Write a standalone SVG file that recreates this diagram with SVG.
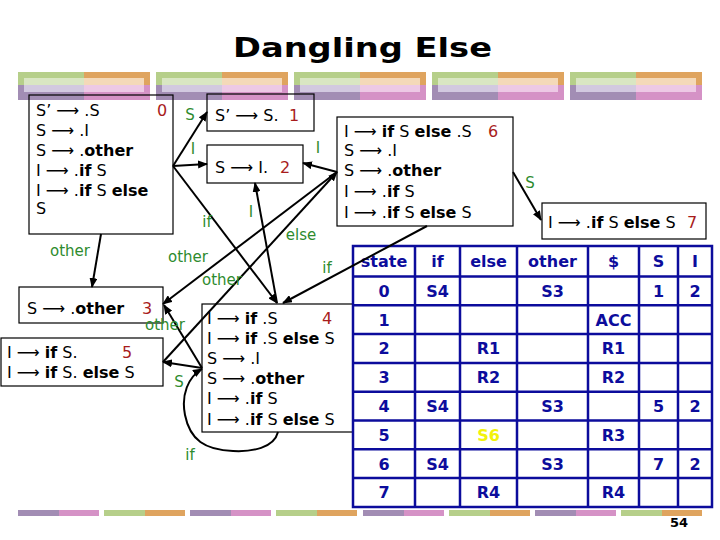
<svg xmlns="http://www.w3.org/2000/svg" width="720" height="540" viewBox="0 0 720 540">
<style>
.t{font-family:"DejaVu Sans",Verdana,sans-serif;font-size:16px;fill:#000}
.b{font-weight:bold}
.n{fill:#a81c1c;text-anchor:middle}
.lbl{font-family:"DejaVu Sans",Verdana,sans-serif;font-size:15px;fill:#2e8b2e;text-anchor:middle}
.box{fill:none;stroke:#000;stroke-width:1.2}
.edge{fill:none;stroke:#000;stroke-width:2;marker-end:url(#ah)}
.grid{stroke:#0c0c9c;stroke-width:2.5;fill:none}
.th{font-family:"DejaVu Sans",Verdana,sans-serif;font-weight:bold;font-size:16px;fill:#0c0c9c;text-anchor:middle}
.g1{fill:#b6cf8a}.o1{fill:#dfa45f}.p1{fill:#a28db4}.k1{fill:#d592c6}
.g2{fill:#d9e6c3}.o2{fill:#f4d9b9}.p2{fill:#d2c9e0}.k2{fill:#edc9e5}
</style>
<defs>
<marker id="ah" markerWidth="10" markerHeight="8" refX="9" refY="4" orient="auto" markerUnits="userSpaceOnUse">
<path d="M0,0 L10,4 L0,8 z" fill="#000"/>
</marker>
<g id="blk">
<rect x="0" y="0" width="66" height="13" class="g1"/>
<rect x="66" y="0" width="66" height="13" class="o1"/>
<rect x="0" y="13" width="66" height="15" class="p1"/>
<rect x="66" y="13" width="66" height="15" class="k1"/>
<rect x="6" y="6" width="60" height="7" class="g2"/>
<rect x="66" y="6" width="60" height="7" class="o2"/>
<rect x="6" y="13" width="60" height="7" class="p2"/>
<rect x="66" y="13" width="60" height="7" class="k2"/>
</g>
<g id="bpp"><rect x="0" y="0" width="41" height="6" class="p1"/><rect x="41" y="0" width="40" height="6" class="k1"/></g>
<g id="bgo"><rect x="0" y="0" width="41" height="6" class="g1"/><rect x="41" y="0" width="40" height="6" class="o1"/></g>
</defs>
<rect width="720" height="540" fill="#fff"/>
<g id="decor">
<use href="#blk" x="18" y="72"/>
<use href="#blk" x="156" y="72"/>
<use href="#blk" x="294" y="72"/>
<use href="#blk" x="432" y="72"/>
<use href="#blk" x="570" y="72"/>
<use href="#bpp" x="18" y="510"/>
<use href="#bgo" x="104" y="510"/>
<use href="#bpp" x="190" y="510"/>
<use href="#bgo" x="276" y="510"/>
<use href="#bpp" x="363" y="510"/>
<use href="#bgo" x="449" y="510"/>
<use href="#bpp" x="535" y="510"/>
<use href="#bgo" x="621" y="510"/>
</g>
<text x="233" y="57" font-family="DejaVu Sans,sans-serif" font-weight="bold" font-size="27" textLength="259" lengthAdjust="spacingAndGlyphs">Dangling Else</text>
<text x="679" y="527" font-family="DejaVu Sans,sans-serif" font-weight="bold" font-size="13" text-anchor="middle">54</text>

<g id="state0">
<rect class="box" x="29" y="95" width="144" height="139"/>
<text class="t" x="36" y="116">S’ ⟶ .S</text>
<text class="t" x="36" y="136">S ⟶ .I</text>
<text class="t" x="36" y="156">S ⟶ .<tspan class="b">other</tspan></text>
<text class="t" x="36" y="176">I ⟶ .<tspan class="b">if</tspan> S</text>
<text class="t" x="36" y="196">I ⟶ .<tspan class="b">if</tspan> S <tspan class="b">else</tspan></text>
<text class="t" x="36" y="214">S</text>
<text class="t n" x="162" y="116">0</text>
</g>
<g id="state1">
<rect class="box" x="207" y="94" width="107" height="37"/>
<text class="t" x="215" y="121">S’ ⟶ S.</text>
<text class="t n" x="294" y="121">1</text>
</g>
<g id="state2">
<rect class="box" x="207" y="145" width="96" height="38"/>
<text class="t" x="215" y="173">S ⟶ I.</text>
<text class="t n" x="285" y="173">2</text>
</g>
<g id="state3">
<rect class="box" x="19" y="287" width="144" height="36"/>
<text class="t" x="27" y="314">S ⟶ .<tspan class="b">other</tspan></text>
<text class="t n" x="147" y="314">3</text>
</g>
<g id="state4">
<rect class="box" x="202" y="304" width="151" height="128"/>
<text class="t" x="207" y="324">I ⟶ <tspan class="b">if</tspan> .S</text>
<text class="t" x="207" y="344">I ⟶ <tspan class="b">if</tspan> .S <tspan class="b">else</tspan> S</text>
<text class="t" x="207" y="364">S ⟶ .I</text>
<text class="t" x="207" y="384">S ⟶ .<tspan class="b">other</tspan></text>
<text class="t" x="207" y="404">I ⟶ .<tspan class="b">if</tspan> S</text>
<text class="t" x="207" y="425">I ⟶ .<tspan class="b">if</tspan> S <tspan class="b">else</tspan> S</text>
<text class="t n" x="327" y="324">4</text>
</g>
<g id="state5">
<rect class="box" x="1" y="338" width="162" height="48"/>
<text class="t" x="7" y="358">I ⟶ <tspan class="b">if</tspan> S.</text>
<text class="t" x="7" y="378">I ⟶ <tspan class="b">if</tspan> S. <tspan class="b">else</tspan> S</text>
<text class="t n" x="127" y="358">5</text>
</g>
<g id="state6">
<rect class="box" x="337" y="117" width="176" height="109"/>
<text class="t" x="344" y="137">I ⟶ <tspan class="b">if</tspan> S <tspan class="b">else</tspan> .S</text>
<text class="t" x="344" y="156">S ⟶ .I</text>
<text class="t" x="344" y="176">S ⟶ .<tspan class="b">other</tspan></text>
<text class="t" x="344" y="197">I ⟶ .<tspan class="b">if</tspan> S</text>
<text class="t" x="344" y="218">I ⟶ .<tspan class="b">if</tspan> S <tspan class="b">else</tspan> S</text>
<text class="t n" x="493" y="137">6</text>
</g>
<g id="state7">
<rect class="box" x="542" y="203" width="164" height="36"/>
<text class="t" x="548" y="228">I ⟶ .<tspan class="b">if</tspan> S <tspan class="b">else</tspan> S</text>
<text class="t n" x="692" y="228">7</text>
</g>

<g id="table">
<rect class="grid" x="353" y="246" width="359" height="261" fill="#fff"/>
<path class="grid" d="M415,246V507M460,246V507M517,246V507M588,246V507M639,246V507M678,246V507M353,276.5H712M353,305.3H712M353,334.1H712M353,362.9H712M353,391.7H712M353,420.5H712M353,449.3H712M353,478.1H712"/>
<text class="th" x="384" y="267">state</text><text class="th" x="437.5" y="267">if</text><text class="th" x="488.5" y="267">else</text><text class="th" x="552.5" y="267">other</text><text class="th" x="613.5" y="267">$</text><text class="th" x="658.5" y="267">S</text><text class="th" x="695" y="267">I</text>
<text class="th" x="384" y="297">0</text><text class="th" x="437.5" y="297">S4</text><text class="th" x="552.5" y="297">S3</text><text class="th" x="658.5" y="297">1</text><text class="th" x="695" y="297">2</text>
<text class="th" x="384" y="326">1</text><text class="th" x="613.5" y="326">ACC</text>
<text class="th" x="384" y="354">2</text><text class="th" x="488.5" y="354">R1</text><text class="th" x="613.5" y="354">R1</text>
<text class="th" x="384" y="383">3</text><text class="th" x="488.5" y="383">R2</text><text class="th" x="613.5" y="383">R2</text>
<text class="th" x="384" y="412">4</text><text class="th" x="437.5" y="412">S4</text><text class="th" x="552.5" y="412">S3</text><text class="th" x="658.5" y="412">5</text><text class="th" x="695" y="412">2</text>
<text class="th" x="384" y="441">5</text><text class="th" x="488.5" y="441" style="fill:#f2f20a">S6</text><text class="th" x="613.5" y="441">R3</text>
<text class="th" x="384" y="470">6</text><text class="th" x="437.5" y="470">S4</text><text class="th" x="552.5" y="470">S3</text><text class="th" x="658.5" y="470">7</text><text class="th" x="695" y="470">2</text>
<text class="th" x="384" y="498">7</text><text class="th" x="488.5" y="498">R4</text><text class="th" x="613.5" y="498">R4</text>
</g>

<g id="connectors">
<line class="edge" x1="173" y1="166" x2="207" y2="112"/>
<line class="edge" x1="173" y1="166" x2="207" y2="164"/>
<line class="edge" x1="173" y1="166" x2="277" y2="303"/>
<line class="edge" x1="101" y1="234" x2="92" y2="287"/>
<line class="edge" x1="277" y1="303" x2="255" y2="183"/>
<line class="edge" x1="337" y1="172" x2="303" y2="163"/>
<line class="edge" x1="337" y1="172" x2="163" y2="304"/>
<line class="edge" x1="163" y1="362" x2="337" y2="172"/>
<line class="edge" x1="202" y1="368" x2="164" y2="305"/>
<line class="edge" x1="202" y1="368" x2="163" y2="362"/>
<line class="edge" x1="427" y1="226" x2="283" y2="303"/>
<line class="edge" x1="513" y1="172" x2="541" y2="220"/>
<path class="edge" d="M278,432 C274,448 252,452 233,451 C205,450 190,440 185,415 C181,395 188,377 202,369"/>
</g>
<g id="labels">
<text class="lbl" x="190" y="120">S</text>
<text class="lbl" x="193" y="154">I</text>
<text class="lbl" x="318" y="153">I</text>
<text class="lbl" x="207" y="227">if</text>
<text class="lbl" x="251" y="217">I</text>
<text class="lbl" x="301" y="240">else</text>
<text class="lbl" x="327" y="273">if</text>
<text class="lbl" x="70" y="256">other</text>
<text class="lbl" x="188" y="262">other</text>
<text class="lbl" x="222" y="285">other</text>
<text class="lbl" x="165" y="330">other</text>
<text class="lbl" x="179" y="387">S</text>
<text class="lbl" x="190" y="460">if</text>
<text class="lbl" x="530" y="188">S</text>
</g>
</svg>
